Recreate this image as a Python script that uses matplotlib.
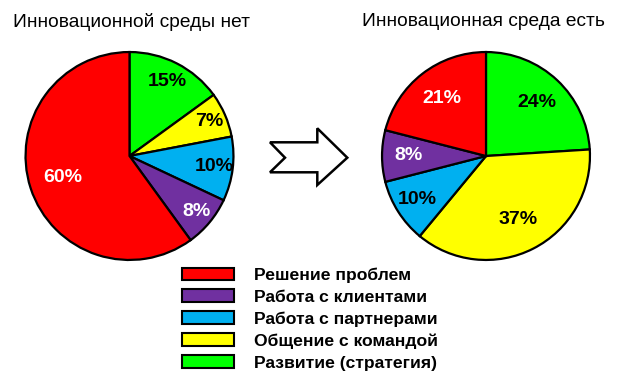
import numpy as np
import matplotlib.pyplot as plt
from matplotlib.patches import Patch, Polygon

# categories in legend order
categories = ["Решение проблем", "Работа с клиентами", "Работа с партнерами",
              "Общение с командой", "Развитие (стратегия)"]
colors = ["#FF0000", "#7030A0", "#00B0F0", "#FFFF00", "#00FF00"]

# shares in %, same order as categories
no_innov = [60, 8, 10, 7, 15]
with_innov = [21, 8, 10, 37, 24]

titles = ["Инновационной среды нет", "Инновационная среда есть"]

label_colors = ["white", "white", "black", "black", "black"]

W, H = 620, 377
fig = plt.figure(figsize=(W / 100, H / 100), dpi=100)
plt.rcParams['font.family'] = ['Liberation Sans', 'DejaVu Sans']


def px_axes(cx, cy, r):
    return fig.add_axes([(cx - r) / W, (H - cy - r) / H, 2 * r / W, 2 * r / H])


def draw_pie(ax, values, label_r):
    # clockwise from 12 o'clock, starting with the green slice
    order = [4, 3, 2, 1, 0]
    vals = [values[i] for i in order]
    cols = [colors[i] for i in order]
    wedges, texts, autotexts = ax.pie(
        vals, colors=cols, startangle=90, counterclock=False,
        autopct=lambda p: f"{p:.0f}%", pctdistance=0.75,
        wedgeprops=dict(edgecolor="black", linewidth=1.6),
        textprops=dict(fontsize=14, fontweight="bold"))
    for k, (w, t) in enumerate(zip(wedges, autotexts)):
        ang = np.deg2rad((w.theta1 + w.theta2) / 2)
        rr = label_r[order[k]]
        t.set_position((rr * np.cos(ang), rr * np.sin(ang)))
        t.set_color(label_colors[order[k]])
    ax.set_xlim(-1.01, 1.01)
    ax.set_ylim(-1.01, 1.01)
    ax.set_aspect("equal")


ax1 = px_axes(129.5, 156, 105)
draw_pie(ax1, no_innov, [0.68, 0.84, 0.82, 0.84, 0.80])
ax2 = px_axes(486, 156, 105)
draw_pie(ax2, with_innov, [0.70, 0.75, 0.78, 0.69, 0.71])

fig.text(13 / W, 1 - 22 / H, titles[0], fontsize=13.8, va="center", ha="left")
fig.text(362 / W, 1 - 22 / H, titles[1], fontsize=13.8, va="center", ha="left")

# arrow between the pies
arrow_px = [(270, 142.3), (317.3, 142.3), (317.3, 128.3), (347.3, 157.7),
            (317.3, 185), (317.3, 172.3), (270, 172.3), (285, 157.7)]
arrow = Polygon([(x / W, 1 - y / H) for x, y in arrow_px], closed=True,
                facecolor="white", edgecolor="black", linewidth=1.8,
                transform=fig.transFigure)
fig.patches.append(arrow)

handles = [Patch(facecolor=c, edgecolor="black", linewidth=1.5) for c in colors]
fig.legend(handles, categories, loc="upper left",
           bbox_to_anchor=(182 / W, 1 - 267.5 / H), frameon=False,
           borderpad=0, borderaxespad=0, handlelength=2.97, handleheight=0.74,
           handletextpad=1.14, labelspacing=0.37,
           prop=dict(size=12.6, weight="bold"))

fig.savefig("out.png", dpi=100)
